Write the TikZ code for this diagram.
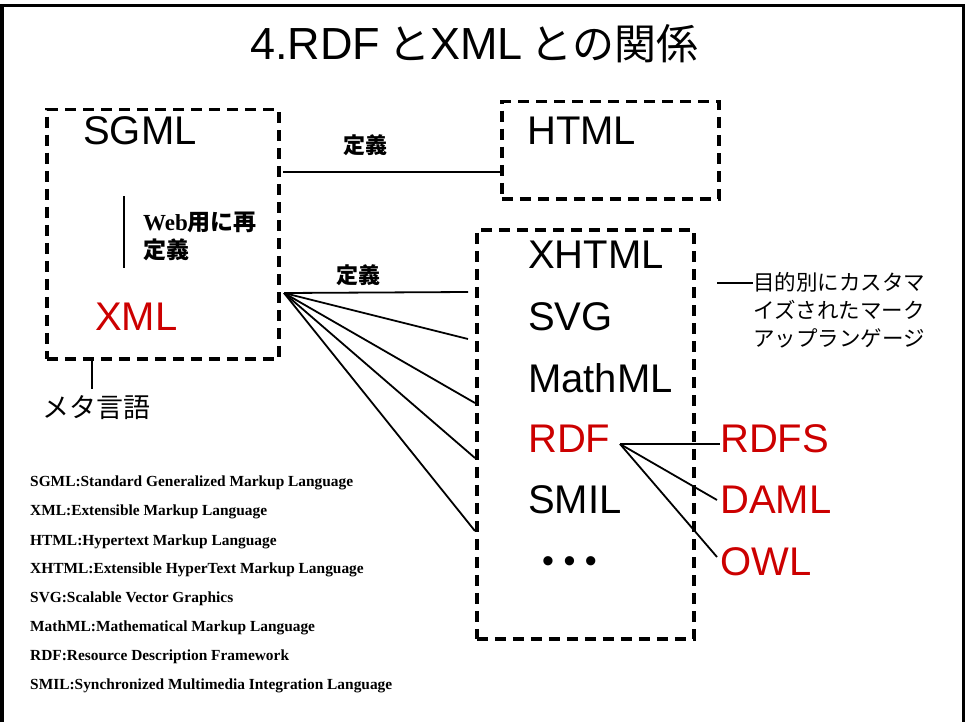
\documentclass[tikz,border=0pt]{standalone}
\usepackage{fontspec}
\setmainfont{Liberation Sans}
\newfontfamily\jp{Noto Sans CJK JP}
\newfontfamily\tms{Liberation Serif}
\definecolor{mlred}{RGB}{204,0,0}
\tikzset{
  dbox/.style={draw, line width=3.5pt, dash pattern=on 11pt off 7pt, inner sep=0pt, anchor=north west},
  big/.style={font=\fontsize{40}{40}\selectfont, anchor=base west, inner sep=0pt},
  lbl/.style={font=\fontsize{22}{22}\selectfont\jp\bfseries, inner sep=0pt},
  conn/.style={line width=1.8pt},
  legend/.style={font=\fontsize{15.4}{15.4}\selectfont\tms\bfseries, anchor=west, inner sep=0pt},
}
\begin{document}
\begin{tikzpicture}[x=1pt, y=-1pt]
\useasboundingbox (0,0) rectangle (965,722);
% slide frame (open at the bottom)
\draw[line width=3.5pt] (2,722) -- (2,5.5) -- (963.5,5.5) -- (963.5,722);

% title
\node[anchor=base west, inner sep=0pt] (title) at (250,60)
  {\fontsize{45}{45}\selectfont 4.RDF\hspace{8pt}{\jp\fontsize{42}{42}\selectfont と}XML\hspace{8pt}{\jp\fontsize{42}{42}\selectfont との関係}};

% dashed groups
\node[dbox, minimum width=232pt, minimum height=249pt] (sgmlbox) at (45,108) {};
\node[dbox, minimum width=217pt, minimum height=97pt] (htmlbox) at (500,100) {};
\node[dbox, minimum width=217pt, minimum height=409pt] (xbox) at (475,228) {};

% languages
\node[big] (sgml) at (83,145) {SGML};
\node[big, text=mlred] (xml) at (95,330) {XML};
\node[big] (html) at (527,145) {HTML};
\node[big] (xhtml) at (528,268) {XHTML};
\node[big] (svg) at (528,330) {SVG};
\node[big] (mathml) at (528,392) {MathML};
\node[big, text=mlred] (rdf) at (528,452) {RDF};
\node[big] (smil) at (528,513) {SMIL};
\node[font=\fontsize{34}{34}\selectfont, anchor=base, inner sep=0pt] (dots) at (569.5,572) {• • •};
\node[big, text=mlred] (rdfs) at (720,452) {RDFS};
\node[big, text=mlred] (daml) at (720,513) {DAML};
\node[big, text=mlred] (owl) at (720,575) {OWL};

% labels
\node[lbl] (def1) at (365,145) {定義};
\node[lbl] (def2) at (358,275) {定義};
\node[anchor=north west, inner sep=0pt, align=left,
      font=\fontsize{23}{28}\selectfont\bfseries] (redef) at (143,212)
  {{\tms Web}{\jp 用に再}\\{\jp 定義}};
\node[anchor=west, inner sep=0pt, font=\fontsize{27}{27}\selectfont\jp] (meta) at (42,408) {メタ言語};
\node[anchor=west, inner sep=0pt, align=left, font=\fontsize{21.5}{28}\selectfont\jp] (note) at (753,310)
  {目的別にカスタマ\\イズされたマーク\\アップランゲージ};

% connectors
\coordinate (d1) at (283,172);
\draw[conn] (d1) -- (htmlbox.west |- d1);

\coordinate (fan) at (284,293);
\coordinate (t1) at (468,292);
\coordinate (t2) at (468,339);
\coordinate (t3) at (475,403);
\coordinate (t4) at (475,458);
\coordinate (t5) at (475,531);
\foreach \t in {t1,t2,t3,t4,t5} \draw[conn] (fan) -- (\t);

\coordinate (rdfo) at (620,444);
\draw[conn] (rdfo) -- (rdfs.west |- rdfo);
\draw[conn] (rdfo) -- (717,500) coordinate (dm);
\draw[conn] (rdfo) -- (717,557) coordinate (ow);

\coordinate (v1) at (124,196);
\draw[conn] (v1) -- (124,268);
\coordinate (m1) at (92,357);
\draw[conn] (m1) -- (92,389);
\coordinate (n1) at (717,283);
\draw[conn] (n1) -- (note.west |- n1);

% abbreviation list
\node[legend] (g1) at (30,483) {SGML:Standard Generalized Markup Language};
\node[legend] (g2) at (30,512) {XML:Extensible Markup Language};
\node[legend] (g3) at (30,542) {HTML:Hypertext Markup Language};
\node[legend] (g4) at (30,570) {XHTML:Extensible HyperText Markup Language};
\node[legend] (g5) at (30,599) {SVG:Scalable Vector Graphics};
\node[legend] (g6) at (30,628) {MathML:Mathematical Markup Language};
\node[legend] (g7) at (30,657) {RDF:Resource Description Framework};
\node[legend] (g8) at (30,686) {SMIL:Synchronized Multimedia Integration Language};
\end{tikzpicture}
\end{document}
